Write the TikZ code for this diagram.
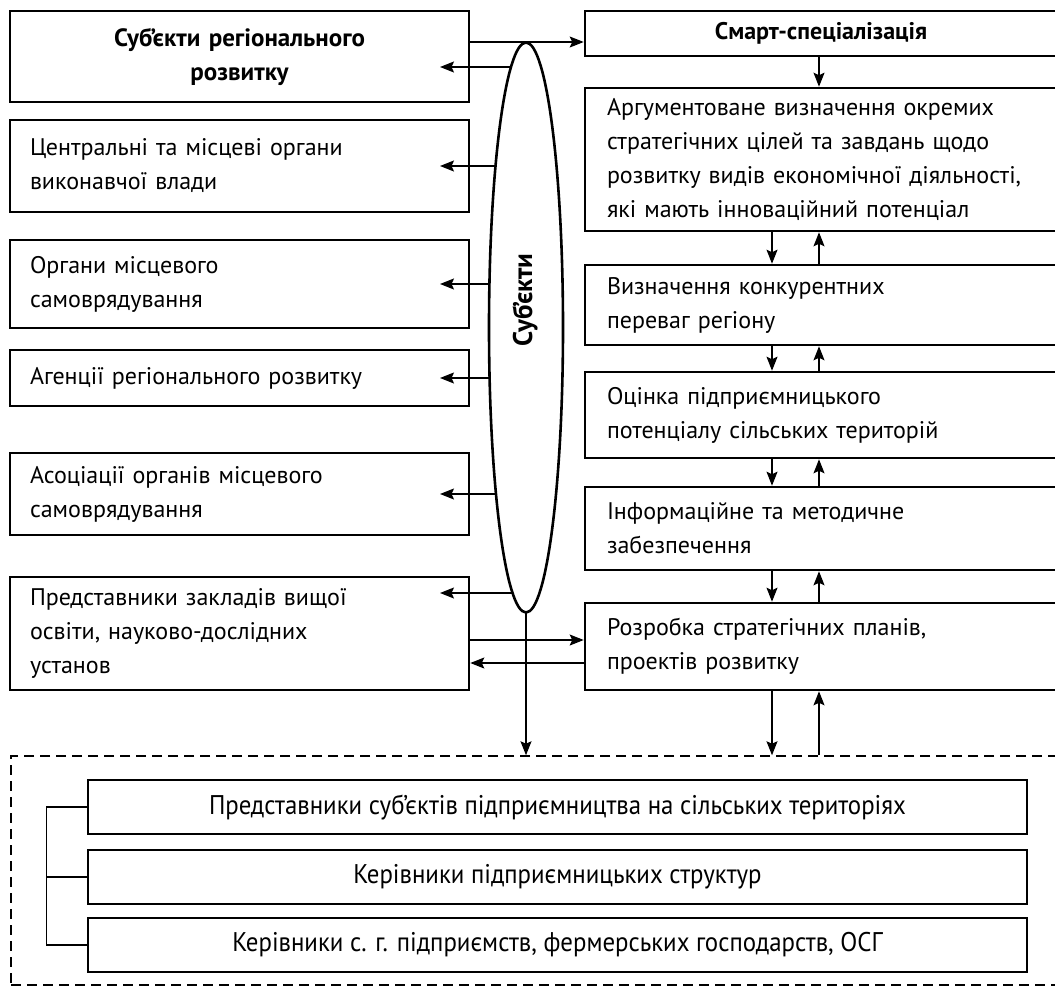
\documentclass[tikz,border=0pt]{standalone}
\usepackage{fontspec}
\setmainfont{PT Sans}
\newfontfamily\condfont[FakeStretch=0.92]{PT Sans}
\usetikzlibrary{shapes.geometric,arrows.meta,backgrounds}
\begin{document}
\begin{tikzpicture}[x=1pt,y=-1pt,
  box/.style={draw, line width=2.6pt, rectangle, inner sep=0pt, font=\fontsize{24}{34}\selectfont},
  lbox/.style={box, minimum width=459pt, text width=419pt, align=left},
  rbox/.style={box, minimum width=472pt, text width=428pt, align=left},
  bbox/.style={box, minimum width=939pt, minimum height=54pt, font=\condfont\fontsize{27}{30}\selectfont},
  arr/.style={line width=1.3pt, -{Stealth[length=14pt,width=11pt,inset=2.5pt]}},
  ln/.style={line width=1.3pt},
]
\useasboundingbox (0,0) rectangle (1055,994);

% left column
\node[lbox, align=center, minimum height=91pt, font=\bfseries\fontsize{25}{34}\selectfont] (L1) at (239.5,56.5) {Суб’єкти регіонального\\розвитку};
\node[lbox, minimum height=92pt] (L2) at (239.5,166) {Центральні та місцеві органи\\виконавчої влади};
\node[lbox, minimum height=88pt] (L3) at (239.5,284) {Органи місцевого\\самоврядування};
\node[lbox, minimum height=56pt] (L4) at (239.5,378) {Агенції регіонального розвитку};
\node[lbox, minimum height=82pt] (L5) at (239.5,494) {Асоціації органів місцевого\\самоврядування};
\node[lbox, minimum height=113pt] (L6) at (239.5,633.5) {Представники закладів вищої\\освіти, науково-дослідних\\установ};

% right column
\node[rbox, align=center, minimum height=45pt, font=\bfseries\fontsize{24}{34}\selectfont] (R1) at (821,33.5) {Смарт-спеціалізація};
\node[rbox, minimum height=143pt] (R2) at (821,159.5) {Аргументоване визначення окремих\\стратегічних цілей та завдань щодо\\розвитку видів економічної діяльності,\\які мають інноваційний потенціал};
\node[rbox, minimum height=80pt] (R3) at (821,305) {Визначення конкурентних\\переваг регіону};
\node[rbox, minimum height=86pt] (R4) at (821,415) {Оцінка підприємницького\\потенціалу сільських територій};
\node[rbox, minimum height=83pt] (R5) at (821,528.5) {Інформаційне та методичне\\забезпечення};
\node[rbox, minimum height=87pt] (R6) at (821,646.5) {Розробка стратегічних планів,\\проектів розвитку};

% dashed group
\node[draw, dash pattern=on 10pt off 6pt, line width=1.5pt, minimum width=1049pt, minimum height=229pt, inner sep=0pt] (D) at (535.5,870.5) {};
\node[bbox] (B1) at (557.5,807) {Представники суб’єктів підприємництва на сільських територіях};
\node[bbox] (B2) at (557.5,877) {Керівники підприємницьких структур};
\node[bbox] (B3) at (557.5,945) {Керівники с. г. підприємств, фермерських господарств, ОСГ};
\draw[ln] (B1.west) -- ++(-40,0) |- (B3.west);
\draw[ln] (B2.west) -- ++(-40,0);

% ellipse
\node[draw, ellipse, line width=2.6pt, fill=white, rotate=90, minimum width=570pt, minimum height=74pt, inner sep=0pt] (E) at (526,327.5) {};
\node[rotate=90, inner sep=0pt, font=\bfseries\fontsize{27}{30}\selectfont] (Et) at (525,300) {Суб’єкти};

\coordinate (t1) at (440,67);
\coordinate (t2) at (440,166);
\coordinate (t3) at (440,284);
\coordinate (t4) at (440,378);
\coordinate (t5) at (440,494);
\coordinate (t6) at (440,593);
\coordinate (yS) at (0,42);
\coordinate (yA) at (0,640);
\coordinate (yB) at (0,663);
\coordinate (cd) at (772,0);
\coordinate (cu) at (819,0);

\begin{scope}[on background layer]
  \draw[arr] (E.center |- t1) -- (t1);
  \draw[arr] (E.center |- t2) -- (t2);
  \draw[arr] (E.center |- t3) -- (t3);
  \draw[arr] (E.center |- t4) -- (t4);
  \draw[arr] (E.center |- t5) -- (t5);
  \draw[arr] (E.center |- t6) -- (t6);
  \draw[arr] (E.center) -- (E.center |- D.north);
\end{scope}

\draw[arr] (L1.east |- yS) -- (R1.west |- yS);
\draw[arr] (L6.east |- yA) -- (R6.west |- yA);
\draw[arr] (R6.west |- yB) -- (L6.east |- yB);

\draw[arr] (R1.south -| cu) -- (R2.north -| cu);
\draw[arr] (R2.south -| cd) -- (R3.north -| cd);
\draw[arr] (R3.north -| cu) -- (R2.south -| cu);
\draw[arr] (R3.south -| cd) -- (R4.north -| cd);
\draw[arr] (R4.north -| cu) -- (R3.south -| cu);
\draw[arr] (R4.south -| cd) -- (R5.north -| cd);
\draw[arr] (R5.north -| cu) -- (R4.south -| cu);
\draw[arr] (R5.south -| cd) -- (R6.north -| cd);
\draw[arr] (R6.north -| cu) -- (R5.south -| cu);
\draw[arr] (R6.south -| cd) -- (D.north -| cd);
\draw[arr] (D.north -| cu) -- (R6.south -| cu);
\end{tikzpicture}
\end{document}
